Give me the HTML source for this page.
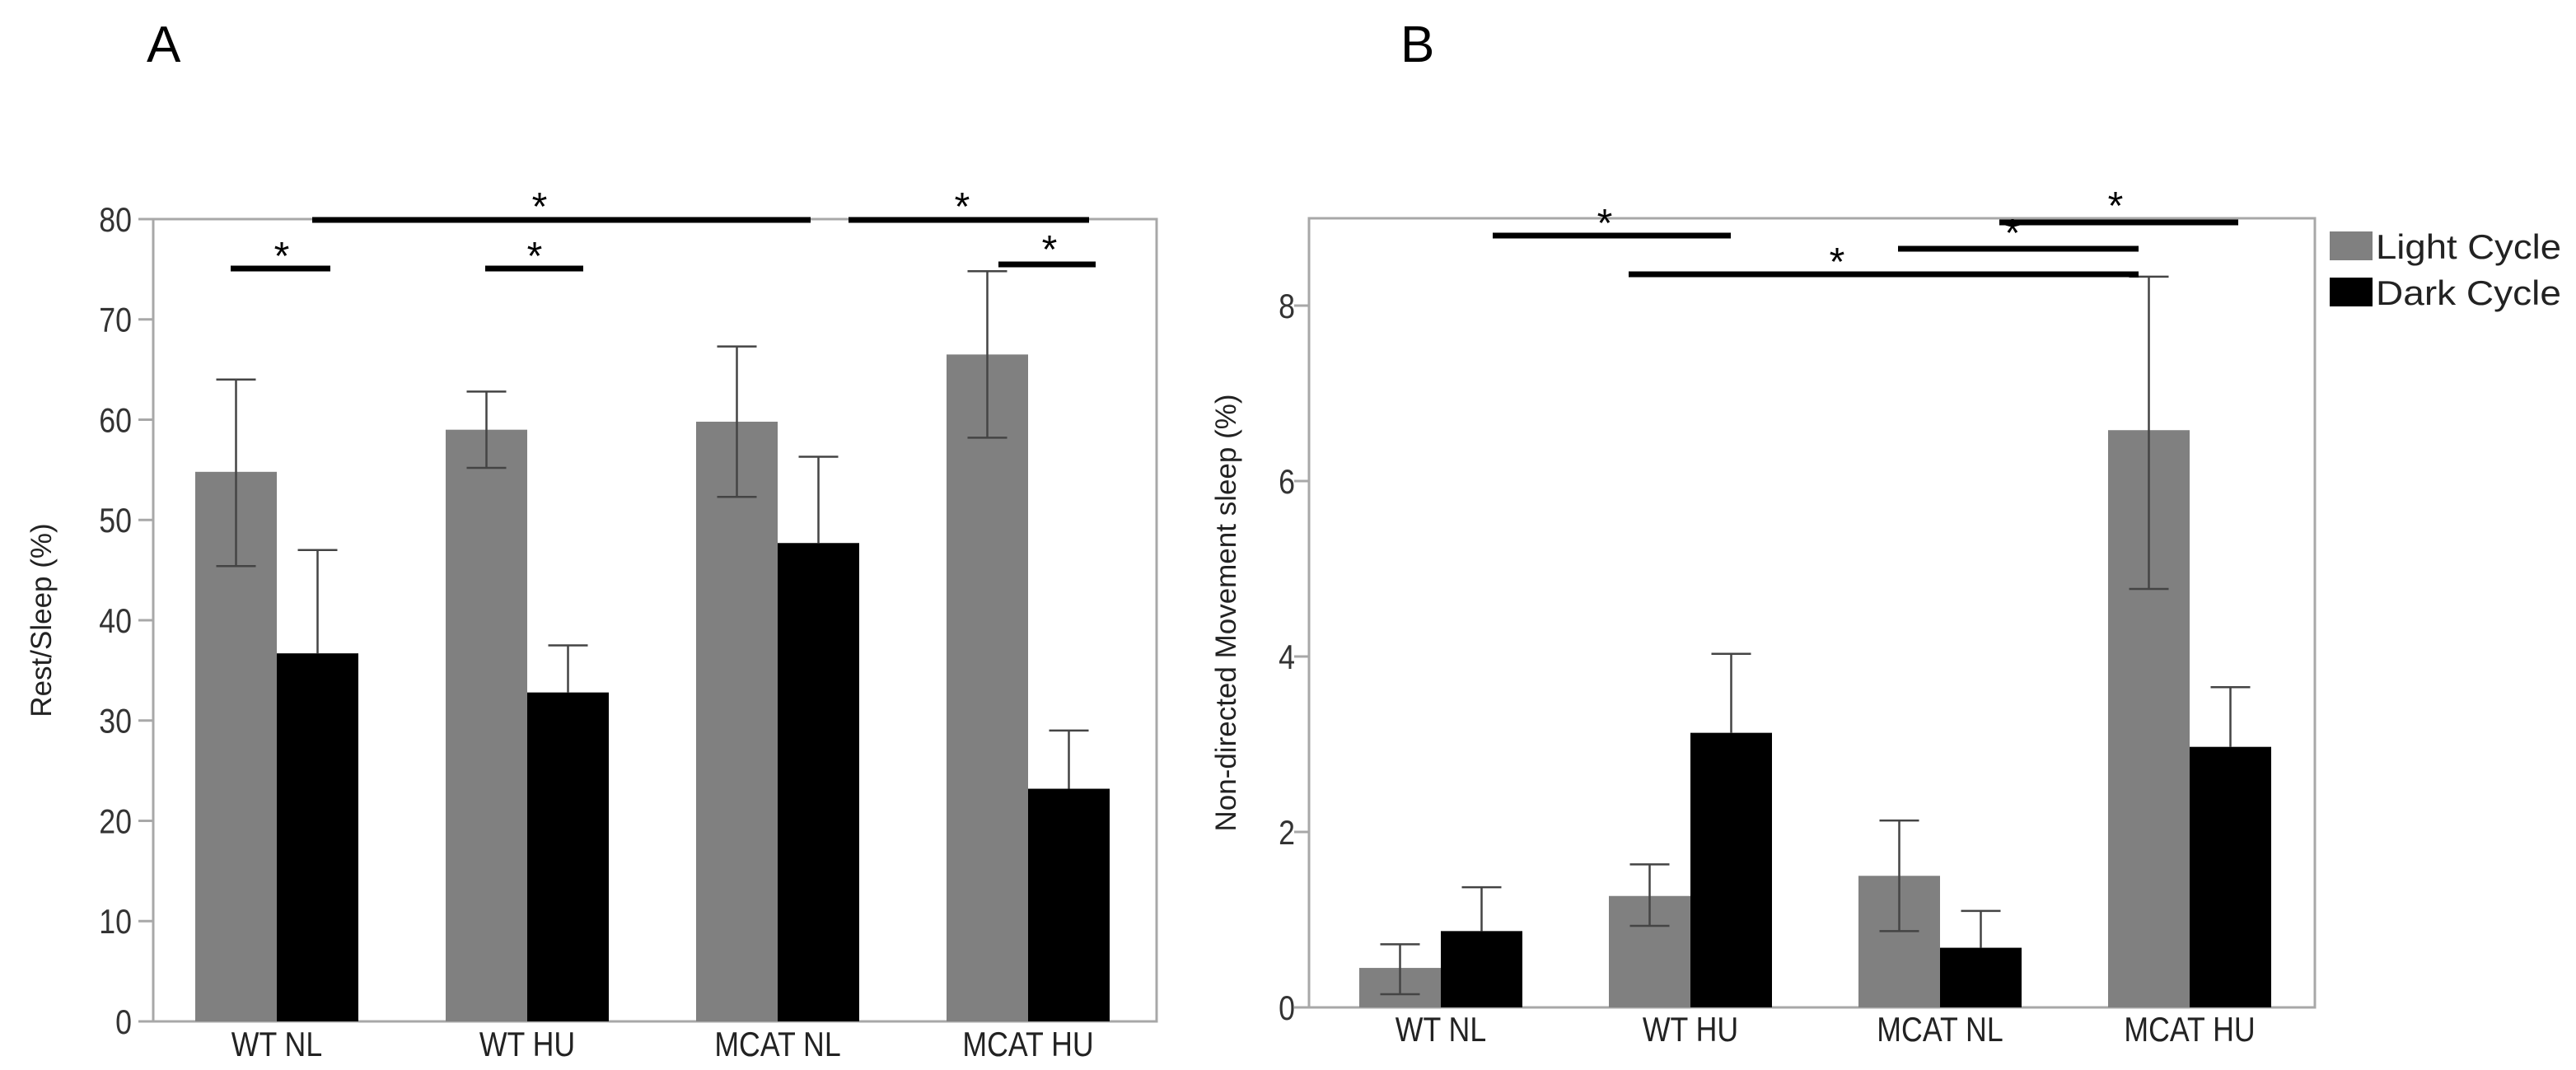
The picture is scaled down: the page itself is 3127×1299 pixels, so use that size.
<!DOCTYPE html>
<html><head><meta charset="utf-8"><style>
html,body{margin:0;padding:0;background:#fff;}
svg{display:block;font-family:"Liberation Sans",sans-serif;}
</style></head><body>
<svg id="fig" width="3127" height="1299" viewBox="0 0 3127 1299">
<text x="178" y="75" font-size="62" fill="#000">A</text>
<text x="1700" y="75" font-size="62" fill="#000">B</text>
<g id="pa"></g>
<g id="pb"></g>
<g>
<rect x="2828" y="281" width="52" height="35" fill="#808080"/>
<text x="2884" y="314" font-size="42" fill="#222" textLength="225" lengthAdjust="spacingAndGlyphs">Light Cycle</text>
<rect x="2828" y="337" width="52" height="35" fill="#000"/>
<text x="2884" y="370" font-size="42" fill="#222" textLength="225" lengthAdjust="spacingAndGlyphs">Dark Cycle</text>
</g>
</svg>
<script>
const categories = ["WT NL","WT HU","MCAT NL","MCAT HU"];
const aLight = [54.8, 59.0, 59.8, 66.5];
const aLightLo = [45.4, 55.2, 52.3, 58.2];
const aLightHi = [64.0, 62.8, 67.3, 74.8];
const aDark = [36.7, 32.8, 47.7, 23.2];
const aDarkHi = [47.0, 37.5, 56.3, 29.0];
const aTicks = [0,10,20,30,40,50,60,70,80];
const bLight = [0.45, 1.27, 1.5, 6.58];
const bLightLo = [0.15, 0.93, 0.87, 4.77];
const bLightHi = [0.72, 1.63, 2.13, 8.33];
const bDark = [0.87, 3.13, 0.68, 2.97];
const bDarkHi = [1.37, 4.03, 1.10, 3.65];
const bTicks = [0,2,4,6,8];

const NS="http://www.w3.org/2000/svg";
function mk(parent,tag,attrs,txt){const e=document.createElementNS(NS,tag);for(const k in attrs)e.setAttribute(k,attrs[k]);if(txt!==undefined)e.textContent=txt;parent.appendChild(e);return e;}

function drawPanel(g, cfg){
  const {left,right,top,bottom,ymax,ticks,light,lightLo,lightHi,dark,darkHi,c0,step,bw,title,titleX,labY,tickRight} = cfg;
  const y = v => bottom - (v/ymax)*(bottom - cfg.yAt);
  const fr = mk(g,'rect',{x:left,y:top,width:right-left,height:bottom-top,fill:'none',stroke:'#a8a8a8','stroke-width':3});
  
  
  ticks.forEach(t=>{
    const tl=mk(g,'line',{x1:left-18,x2:left,y1:y(t),y2:y(t),stroke:'#a8a8a8','stroke-width':3});
    
    
    const tx=mk(g,'text',{x:tickRight/0.85,y:y(t)+15,'font-size':42,'text-anchor':'end',fill:'#333',transform:'scale(0.85,1)'},String(t));
    
    
  });
  const yt=mk(g,'text',{x:titleX,y:(top+bottom)/2,'font-size':35,'text-anchor':'middle',fill:'#222',transform:`rotate(-90 ${titleX} ${(top+bottom)/2})`},title);
  
  
  categories.forEach((c,i)=>{
    const cx=c0+i*step;
    const r1=mk(g,'rect',{x:cx-bw,y:y(light[i]),width:bw,height:bottom-y(light[i]),fill:'#808080'});
    
    
    const r2=mk(g,'rect',{x:cx,y:y(dark[i]),width:bw,height:bottom-y(dark[i]),fill:'#000'});
    
    
    const lx=cx-bw/2;
    const e1=mk(g,'path',{d:`M${lx},${y(lightLo[i])}V${y(lightHi[i])}M${lx-24},${y(lightHi[i])}h48M${lx-24},${y(lightLo[i])}h48`,stroke:'#444','stroke-width':2.5,fill:'none'});
    
    
    const dx=cx+bw/2;
    const e2=mk(g,'path',{d:`M${dx},${y(dark[i])}V${y(darkHi[i])}M${dx-24},${y(darkHi[i])}h48`,stroke:'#444','stroke-width':2.5,fill:'none'});
    
    
    const lb=mk(g,'text',{x:cx/0.85,y:labY+2,'font-size':42,'text-anchor':'middle',fill:'#222',transform:'scale(0.85,1)'},c);
    
    
  });
}
function sig(g,x1,x2,yy,sx,sy){
  const l=mk(g,'rect',{x:x1,y:yy-3.5,width:x2-x1,height:7,fill:'#000'});
  
  
  const s=mk(g,'text',{x:sx,y:sy+20,'font-size':48,'text-anchor':'middle',fill:'#000'},'*');
  
  
}
const pa=document.getElementById('pa'), pb=document.getElementById('pb');
drawPanel(pa,{left:186,right:1404,top:266,bottom:1240,yAt:266,ymax:80,ticks:aTicks,light:aLight,lightLo:aLightLo,lightHi:aLightHi,dark:aDark,darkHi:aDarkHi,c0:336,step:304,bw:99,title:'Rest/Sleep (%)',titleX:62,labY:1280,tickRight:160});
drawPanel(pb,{left:1589,right:2810,top:265,bottom:1223,yAt:371,ymax:8,ticks:bTicks,light:bLight,lightLo:bLightLo,lightHi:bLightHi,dark:bDark,darkHi:bDarkHi,c0:1749,step:303,bw:99,title:'Non-directed Movement sleep (%)',titleX:1500,labY:1262,tickRight:1572});
sig(pa,379,984,267,655,247);
sig(pa,1030,1322,267,1168,247);
sig(pa,280,401,326,342,307);
sig(pa,589,708,326,649,307);
sig(pa,1212,1330,321,1274,299);
sig(pb,1812,2101,286,1948,267);
sig(pb,2427,2717,270,2568,246);
sig(pb,2304,2596,302,2443,279);
sig(pb,1977,2596,333,2230,314);
</script>
</body></html>
